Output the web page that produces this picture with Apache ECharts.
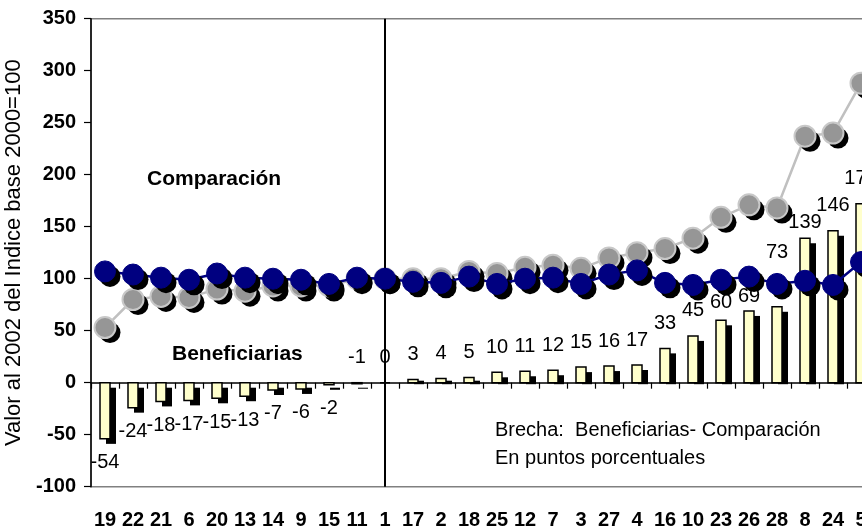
<!DOCTYPE html>
<html>
<head>
<meta charset="utf-8">
<script src="https://cdn.jsdelivr.net/npm/echarts@6/dist/echarts.min.js"></script>
<style>html,body{margin:0;padding:0;background:#fff;}#c{width:862px;height:529px;}</style>
</head>
<body>
<div id="c"></div>
<script>
const categories = ['19','22','21','6','20','13','14','9','15','11','1','17','2','18','25','12','7','3','27','4','16','10','23','26','28','8','24','5'];
const brecha = [-54,-24,-18,-17,-15,-13,-7,-6,-2,-1,0,3,4,5,10,11,12,15,16,17,33,45,60,69,73,139,146,172];
const beneficiarias = [107,104,101,99,105,101,100,99,95,101,100,97,96,102,95,100,101,95,104,108,96,94,99,102,95,98,94,116];
const comparacion = [53,80,83,82,90,88,93,93,93,100,100,100,100,107,105,111,113,110,120,125,129,139,159,171,168,237,240,288];
const yMin = -100, yMax = 350, yStep = 50;

const FONT = "'Liberation Sans', Arial, sans-serif";
// label placement tweaks (some labels were moved by hand in the original)
const labelOffset = {'23': 18, '26': 14, '28': 54, '8': 16};
const labelAbove = {'11': true};

const SH_X = 6, SH_Y = 5;     // bar shadow offset
const MK_SH = 5;              // marker shadow offset
const BAR_W = 10;
const MK_R = 10.5;

function renderBar(params, api) {
  const idx = api.value(0), v = api.value(1);
  const c = categories[idx];
  const p0 = api.coord([idx, 0]);
  const p1 = api.coord([idx, v]);
  const top = Math.min(p0[1], p1[1]);
  const h = Math.abs(p1[1] - p0[1]);
  const up = v >= 0 || labelAbove[c];
  let ly;
  if (up) ly = top - (labelOffset[c] !== undefined ? labelOffset[c] : 25);
  else ly = top + h + 24;
  let shY = top + SH_Y, shH = h;
  if (v > 0) {
    shY = Math.min(top + SH_Y, p0[1] - 2);
    shH = p0[1] + 1.5 - shY;
  }
  return {
    type: 'group',
    children: [
      {type: 'rect', shape: {x: p0[0] - BAR_W / 2 + SH_X, y: shY, width: BAR_W, height: shH}, style: {fill: '#000'}},
      {type: 'rect', shape: {x: p0[0] - BAR_W / 2, y: top, width: BAR_W, height: h}, style: {fill: '#FFFFCC', stroke: '#000', lineWidth: 1.5}},
      {type: 'text', x: p0[0], y: ly, z2: 100, style: {text: String(v), font: '20px ' + FONT, fill: '#000', align: 'center', verticalAlign: 'middle'}}
    ]
  };
}

function markerRenderer(fill, stroke, lw) {
  return function (params, api) {
    const p = api.coord([api.value(0), api.value(1)]);
    return {
      type: 'group',
      children: [
        {type: 'circle', shape: {cx: p[0] + MK_SH, cy: p[1] + MK_SH, r: MK_R}, style: {fill: '#000'}},
        {type: 'circle', shape: {cx: p[0], cy: p[1], r: MK_R}, style: {fill: fill, stroke: stroke, lineWidth: lw}}
      ]
    };
  };
}

const barPoints = brecha.map((v, i) => [i, v]);
const compPoints = comparacion.map((v, i) => [i, v]);
const benPoints = beneficiarias.map((v, i) => [i, v]);

const chart = echarts.init(document.getElementById('c'), null, {renderer: 'canvas'});
chart.setOption({
  animation: false,
  backgroundColor: '#ffffff',
  textStyle: {fontFamily: FONT},
  grid: {
    left: 91, top: 18.7, width: 784, height: 468,
    outerBoundsMode: 'none', containLabel: false,
    show: true, borderColor: '#808080', borderWidth: 1.5, backgroundColor: 'transparent'
  },
  xAxis: [
    {
      type: 'category', data: categories, position: 'bottom',
      axisLine: {onZero: true, lineStyle: {color: '#000', width: 1.5}},
      axisTick: {show: true, length: 6, lineStyle: {color: '#000', width: 1.2}},
      axisLabel: {show: false},
      splitLine: {show: false}
    },
    {
      type: 'category', data: categories, position: 'bottom',
      axisLine: {show: false, onZero: false},
      axisTick: {show: false},
      axisLabel: {show: true, interval: 0, margin: 24, color: '#000', fontWeight: 'bold', fontSize: 20, fontFamily: FONT},
      splitLine: {show: false}
    }
  ],
  yAxis: {
    type: 'value', min: yMin, max: yMax, interval: yStep,
    name: 'Valor al 2002 del Indice base 2000=100',
    nameLocation: 'middle', nameGap: 61, nameRotate: 90,
    nameTextStyle: {color: '#000', fontSize: 22, fontFamily: FONT},
    axisLine: {show: true, lineStyle: {color: '#000', width: 1.5}},
    axisTick: {show: true, length: 7, lineStyle: {color: '#000', width: 1.2}},
    axisLabel: {color: '#000', fontWeight: 'bold', fontSize: 20, margin: 15, fontFamily: FONT},
    splitLine: {show: false}
  },
  series: [
    {
      name: 'Brecha', type: 'custom', xAxisIndex: 0, data: barPoints, z: 2,
      encode: {x: 0, y: 1}, renderItem: renderBar,
      markLine: {
        silent: true, symbol: 'none', label: {show: false},
        lineStyle: {color: '#000', width: 2, type: 'solid'},
        data: [{xAxis: 10}]
      }
    },
    {
      name: 'Comparación', type: 'line', xAxisIndex: 0, data: comparacion, z: 3,
      showSymbol: false, lineStyle: {color: '#C0C0C0', width: 2.5}
    },
    {
      name: 'Comparación puntos', type: 'custom', xAxisIndex: 0, data: compPoints, z: 4,
      encode: {x: 0, y: 1}, renderItem: markerRenderer('#969696', '#C8C8C8', 2)
    },
    {
      name: 'Beneficiarias', type: 'line', xAxisIndex: 0, data: beneficiarias, z: 5,
      showSymbol: false, lineStyle: {color: '#000080', width: 2.5}
    },
    {
      name: 'Beneficiarias puntos', type: 'custom', xAxisIndex: 0, data: benPoints, z: 6,
      encode: {x: 0, y: 1}, renderItem: markerRenderer('#000080', '#000080', 1)
    }
  ],
  graphic: [
    {type: 'text', left: 147, top: 169, style: {text: 'Comparación', font: 'bold 21px ' + FONT, fill: '#000'}},
    {type: 'text', left: 172, top: 344, style: {text: 'Beneficiarias', font: 'bold 21px ' + FONT, fill: '#000'}},
    {type: 'text', left: 495, top: 416, style: {text: 'Brecha:  Beneficiarias- Comparación\nEn puntos porcentuales', font: '20px ' + FONT, fill: '#000', lineHeight: 28}}
  ]
});
</script>
</body>
</html>
